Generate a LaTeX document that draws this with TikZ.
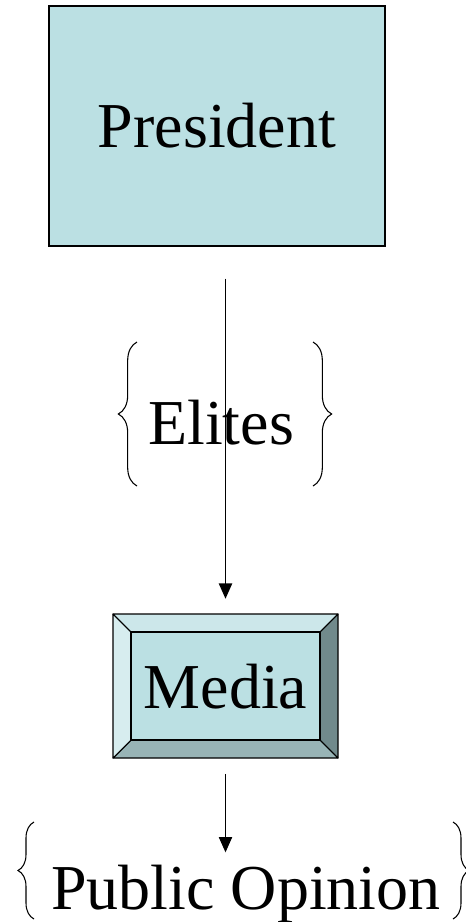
\documentclass[tikz,border=0pt]{standalone}
\usepackage{fontspec}
\setmainfont{Liberation Serif}
\usetikzlibrary{positioning, calc, arrows.meta, decorations.pathreplacing, backgrounds}
\definecolor{boxfill}{HTML}{BBE0E3}
\definecolor{beveltop}{HTML}{CCE7EA}
\definecolor{bevelleft}{HTML}{D7EDEF}
\definecolor{bevelright}{HTML}{718A8C}
\definecolor{bevelbottom}{HTML}{98B4B6}

\begin{document}
\begin{tikzpicture}
		[x=0.75pt, y=-0.75pt,
		 big/.style={font=\fontsize{48}{58}\selectfont},
		 flow/.style={line width=0.9pt, -{Triangle[length=11.5pt, width=10pt]}},
		 curly/.style={line width=0.8pt, decorate, decoration={brace, amplitude=#1}},
		 curly/.default=14pt,
		 bevel/.style={draw, line width=0.8pt, line join=round}]
		\useasboundingbox (0, 0) rectangle (465, 922);
		\node[big, draw, line width=1pt, fill=boxfill, minimum width=252pt, minimum height=180pt] (president) at (217, 126) {President};
		\node[big] (elites) at (221, 423) {Elites};
		\node[big, minimum width=168.75pt, minimum height=108pt] (media) at (225.5, 687) {Media};
		\node[big, inner sep=9pt, anchor=base] (opinion) at (246, 909) {Public Opinion};
		
		% bevelled frame of the media box
		\coordinate (mA) at (113, 614);
		\coordinate (mB) at (338, 614);
		\coordinate (mC) at (338, 758);
		\coordinate (mD) at (113, 758);
		\coordinate (ma) at ($(mA)+(18, 18)$);
		\coordinate (mb) at ($(mB)+(-18, 18)$);
		\coordinate (mc) at ($(mC)+(-18, -18)$);
		\coordinate (md) at ($(mD)+(18, -18)$);
		\begin{scope}[on background layer]
			\filldraw[bevel, fill=beveltop] (mA) -- (mB) -- (mb) -- (ma) -- cycle;
			\filldraw[bevel, fill=bevelright] (mB) -- (mC) -- (mc) -- (mb) -- cycle;
			\filldraw[bevel, fill=bevelbottom] (mC) -- (mD) -- (md) -- (mc) -- cycle;
			\filldraw[bevel, fill=bevelleft] (mD) -- (mA) -- (ma) -- (md) -- cycle;
			\filldraw[bevel, fill=boxfill] (ma) -- (mb) -- (mc) -- (md) -- cycle;
		\end{scope}
		
		% braces
		\draw[curly] (137, 486) -- (137, 342);
		\draw[curly] (313, 342) -- (313, 486);
		\draw[curly=12pt] (34, 919) -- (34, 822);
		\draw[curly=12pt] (453, 822) -- (453, 919);
		
		\draw[flow, shorten <=24pt, shorten >=12pt] (president.south -| media.north) -- (media.north);
		\draw[flow, shorten <=11pt] (media.south) -- (media.south |- opinion.north);
	\end{tikzpicture}
\end{document}
